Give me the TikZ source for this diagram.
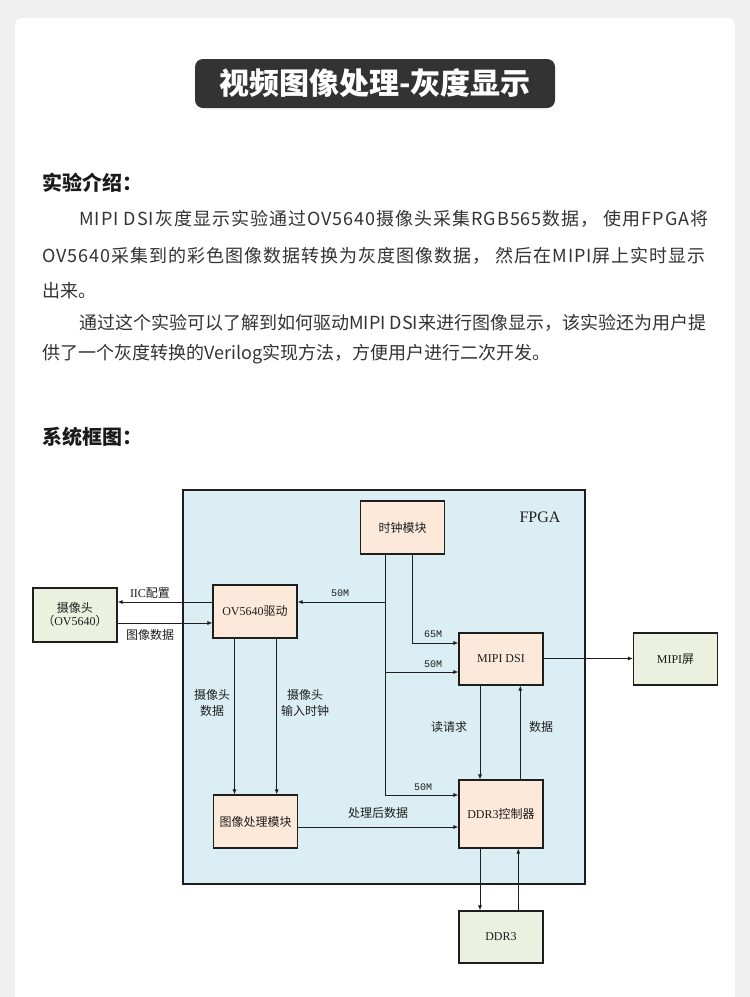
\documentclass[tikz,border=0pt]{standalone}
\usepackage{fontspec}
\setmainfont{Noto Sans CJK SC}
\newfontfamily\ser{Liberation Serif}
\newfontfamily\mon{Liberation Mono}
\usetikzlibrary{arrows.meta,shadows}
\definecolor{bgc}{HTML}{F0F0F0}
\definecolor{titlec}{HTML}{333333}
\definecolor{txt}{HTML}{333333}
\definecolor{headc}{HTML}{1A1A1A}
\definecolor{fpgac}{HTML}{DAEEF3}
\definecolor{peach}{HTML}{FDE9D9}
\definecolor{greenc}{HTML}{EBF1DE}
\definecolor{linec}{HTML}{1E1E1E}
\tikzset{
  blk/.style={draw=linec, line width=1.1pt, minimum width=84pt, minimum height=53pt, inner sep=0pt,
    font=\fontsize{12}{14}\selectfont, text=linec, align=center,
    drop shadow={shadow xshift=0.9pt, shadow yshift=-0.9pt, fill=black!45, opacity=1}},
  inb/.style={blk, fill=peach},
  outb/.style={blk, fill=greenc},
  arr/.style={draw=linec, line width=0.9pt, -{Latex[length=5pt,width=4pt]}},
  lbl/.style={font=\fontsize{12}{15.5}\selectfont, text=linec, inner sep=0pt, align=center},
  mlbl/.style={font=\mon\fontsize{10}{11}\selectfont, text=linec, inner sep=0pt},
  para/.style={anchor=west, inner sep=0pt, text=txt, font=\fontsize{18}{20}\selectfont},
  head/.style={anchor=west, inner sep=0pt, text=headc, font=\bfseries\fontsize{20}{22}\selectfont}
}
\begin{document}
\begin{tikzpicture}[x=1pt,y=-1pt]
\useasboundingbox (0,0) rectangle (750,997);
\fill[bgc] (0,0) rectangle (750,997);
\fill[white, rounded corners=7pt] (15,18) rectangle (735,1020);

% title
\node[fill=titlec, rounded corners=8pt, minimum width=360pt, minimum height=49pt, inner sep=0pt,
  text=white, font=\bfseries\fontsize{30}{31}\selectfont] (title) at (375,83.5) {视频图像处理-灰度显示};

% intro text
\node[head] (h1) at (42,183) {实验介绍：};
\node[para] (p1) at (79,219) {\addfontfeature{LetterSpace=5.5}MIPI DSI灰度显示实验通过OV5640摄像头采集RGB565数据， 使用FPGA将};
\node[para] (p2) at (42,256) {\addfontfeature{LetterSpace=5.5}OV5640采集到的彩色图像数据转换为灰度图像数据， 然后在MIPI屏上实时显示};
\node[para] (p3) at (42,291) {出来。};
\node[para] (p4) at (79,323) {通过这个实验可以了解到如何驱动MIPI DSI来进行图像显示，该实验还为用户提};
\node[para] (p5) at (42,354) {供了一个灰度转换的Verilog实现方法，方便用户进行二次开发。};
\node[head] (h2) at (42,437) {系统框图：};

% FPGA region
\node[draw=linec, line width=1.2pt, fill=fpgac, minimum width=402pt, minimum height=394pt, inner sep=0pt,
  drop shadow={shadow xshift=0.9pt, shadow yshift=-0.9pt, fill=black!45, opacity=1}] (fpga) at (384,687) {};
\node[font=\ser\fontsize{16}{18}\selectfont, text=linec, inner sep=0pt] (fpgal) at (540,517) {FPGA};

% blocks
\node[outb, minimum height=54pt] (cam) at (75,615) {摄像头\\[-1pt]（{\ser OV5640}）};
\node[inb] (ov) at (255,611.5) {{\ser OV5640}驱动};
\node[inb] (clk) at (402.5,527.5) {时钟模块};
\node[inb, minimum height=52pt] (mipi) at (501,659) {\ser MIPI DSI};
\node[outb, minimum height=52pt] (scr) at (675.5,659) {{\ser MIPI}屏};
\node[inb] (img) at (255.5,821.5) {图像处理模块};
\node[inb, minimum height=68pt] (ddrc) at (501,814) {{\ser DDR3}控制器};
\node[outb, minimum height=52pt] (ddr) at (501,937) {\ser DDR3};

% helper coordinates
\coordinate (r602) at (0,602);
\coordinate (r623) at (0,623);
\coordinate (r643) at (0,643);
\coordinate (r658) at (0,658.5);
\coordinate (r672) at (0,672);
\coordinate (r795) at (0,795);
\coordinate (r827) at (0,827);
\coordinate (c234) at (234.5,0);
\coordinate (c277) at (276.7,0);
\coordinate (c385) at (385.5,0);
\coordinate (c412) at (412.3,0);
\coordinate (c480) at (480,0);
\coordinate (c520) at (520.3,0);
\coordinate (c518) at (518.3,0);

% connectors
\draw[arr] (ov.west |- r602) -- (cam.east |- r602);
\draw[arr] (cam.east |- r623) -- (ov.west |- r623);
\draw[arr] (clk.south -| c385) -- (c385 |- r795) -- (ddrc.west |- r795);
\draw[arr] (c385 |- r602) -- (ov.east |- r602);
\draw[arr] (c385 |- r672) -- (mipi.west |- r672);
\draw[arr] (clk.south -| c412) -- (c412 |- r643) -- (mipi.west |- r643);
\draw[arr] (mipi.east |- r658) -- (scr.west |- r658);
\draw[arr] (ov.south -| c234) -- (img.north -| c234);
\draw[arr] (ov.south -| c277) -- (img.north -| c277);
\draw[arr] (img.east |- r827) -- (ddrc.west |- r827);
\draw[arr] (mipi.south -| c480) -- (ddrc.north -| c480);
\draw[arr] (ddrc.north -| c520) -- (mipi.south -| c520);
\draw[arr] (ddrc.south -| c480) -- (ddr.north -| c480);
\draw[arr] (ddr.north -| c518) -- (ddrc.south -| c518);

% labels
\node[lbl] (l1) at (150,593) {{\ser IIC}配置};
\node[lbl] (l2) at (150,635) {图像数据};
\node[mlbl] (l3) at (340,593) {50M};
\node[mlbl] (l4) at (433,634) {65M};
\node[mlbl] (l5) at (433,664) {50M};
\node[mlbl] (l6) at (423,787) {50M};
\node[lbl] (l7) at (212,703) {摄像头\\数据};
\node[lbl] (l8) at (305,703) {摄像头\\输入时钟};
\node[lbl] (l9) at (449,727) {读请求};
\node[lbl] (l10) at (541,727) {数据};
\node[lbl] (l11) at (378,813) {处理后数据};
\end{tikzpicture}
\end{document}
